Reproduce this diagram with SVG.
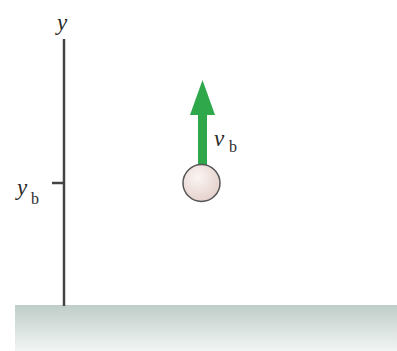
<svg xmlns="http://www.w3.org/2000/svg" width="397" height="351" viewBox="0 0 397 351">
<defs>
<linearGradient id="ground" x1="0" y1="0" x2="0" y2="1">
<stop offset="0" stop-color="#bfcdc9"/>
<stop offset="1" stop-color="#f2f5f4"/>
</linearGradient>
<radialGradient id="ball" cx="0.4" cy="0.35" r="0.7">
<stop offset="0" stop-color="#fbf5f3"/>
<stop offset="1" stop-color="#e3cfca"/>
</radialGradient>
<style>
.lbl{font-family:"Liberation Serif","DejaVu Serif",serif;font-style:italic;fill:#2a2a2a;}
.sub{font-family:"Liberation Serif","DejaVu Serif",serif;fill:#2a2a2a;}
</style>
</defs>
<rect width="397" height="351" fill="#fff"/>
<g id="ground-surface">
<rect x="15" y="305" width="382" height="46" fill="url(#ground)"/>
</g>
<g id="y-axis">
<line x1="64" y1="39" x2="64" y2="306" stroke="#444" stroke-width="2.5"/>
<text class="lbl" x="57" y="30" font-size="23">y</text>
</g>
<g id="yb-tick">
<line x1="52" y1="183" x2="64" y2="183" stroke="#444" stroke-width="2.5"/>
<text class="lbl" x="17" y="195" font-size="23">y</text>
<text class="sub" x="31" y="204" font-size="16">b</text>
</g>
<g id="velocity-arrow">
<rect x="198" y="113" width="9" height="52" fill="#2ea84a"/>
<polygon points="202.5,80 190,115 215,115" fill="#2ea84a"/>
<text class="lbl" x="214" y="146" font-size="23">v</text>
<text class="sub" x="229" y="152" font-size="16">b</text>
</g>
<g id="ball-node">
<circle cx="201.5" cy="183" r="18.5" fill="url(#ball)" stroke="#555" stroke-width="1.5"/>
</g>
</svg>
